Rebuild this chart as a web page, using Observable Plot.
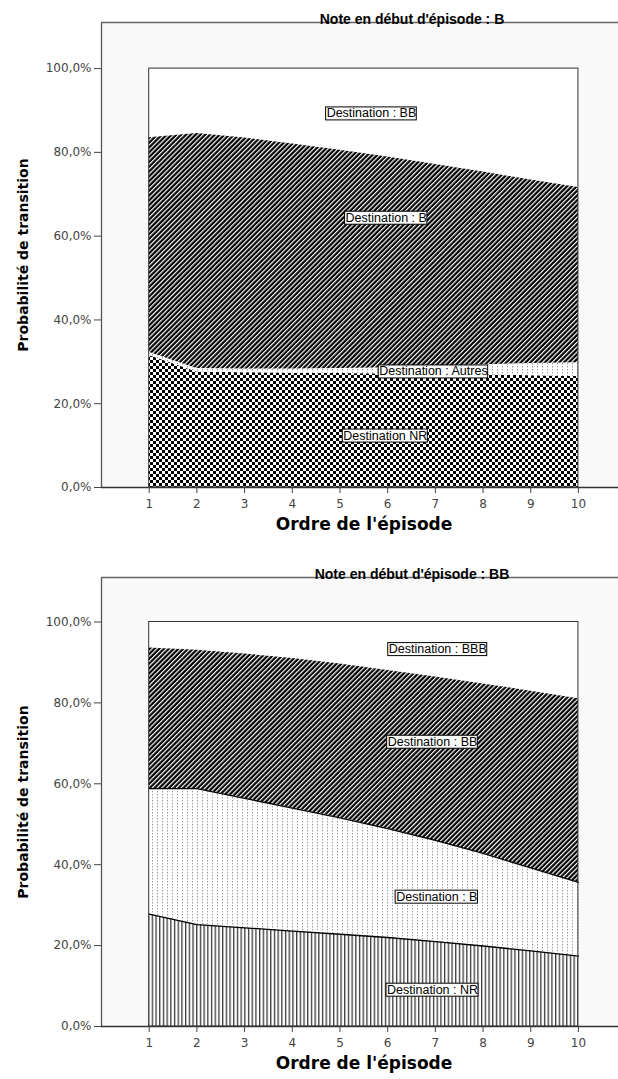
<!DOCTYPE html>
<html><head><meta charset="utf-8">
<script src="https://cdn.jsdelivr.net/npm/d3@7"></script>
<script src="https://cdn.jsdelivr.net/npm/@observablehq/plot@0.6"></script>
<style>
body{margin:0;background:#fff;}
#root{width:618px;}
#root svg{display:block;}
</style>
</head><body><div id="root"></div>
<script>
// ---------- data ----------
const episodes = [1, 2, 3, 4, 5, 6, 7, 8, 9, 10];
const yTicks = [0, 0.2, 0.4, 0.6, 0.8, 1];
const yTitle = "Probabilité de transition";
const xTitle = "Ordre de l'épisode";

// Chart 1 : Note en début d'épisode : B (probabilities in %)
const title1 = "Note en début d'épisode : B";
const dests1 = ["NR", "Autres", "B", "BB"];
const c1_NR     = [31.5, 27.6, 27.4, 27.3, 27.2, 27.1, 27.0, 26.9, 26.7, 26.5];
const c1_Autres = [0.8, 0.8, 0.9, 1.0, 1.2, 1.5, 1.9, 2.4, 2.9, 3.3];
const c1_B      = [51.2, 56.1, 55.1, 53.7, 52.1, 50.3, 48.2, 46.0, 43.8, 41.8];
const c1_BB     = [16.5, 15.5, 16.6, 18.0, 19.5, 21.1, 22.9, 24.7, 26.6, 28.4];
const labels1 = ["Destination NR", "Destination : Autres", "Destination : B", "Destination : BB"];
const labels1X = [5.95, 6.96, 5.97, 5.66];
const labels1Y = [0.124, 0.277, 0.644, 0.893];

// Chart 2 : Note en début d'épisode : BB
const title2 = "Note en début d'épisode : BB";
const dests2 = ["NR", "B", "BB", "BBB"];
const c2_NR  = [27.8, 25.2, 24.4, 23.6, 22.8, 22.0, 21.0, 19.9, 18.7, 17.4];
const c2_B   = [31.0, 33.6, 32.0, 30.4, 28.8, 26.9, 25.0, 22.9, 20.5, 18.2];
const c2_BB  = [34.8, 34.2, 35.7, 37.0, 38.0, 39.1, 40.4, 41.9, 43.7, 45.4];
const c2_BBB = [6.4, 7.0, 7.9, 9.0, 10.4, 12.0, 13.6, 15.3, 17.1, 19.0];
const labels2 = ["Destination : NR", "Destination : B", "Destination : BB", "Destination : BBB"];
const labels2X = [6.94, 7.03, 6.94, 7.05];
const labels2Y = [0.091, 0.321, 0.704, 0.933];

// ---------- helpers ----------
const pct = d => (d * 100).toFixed(1).replace(".", ",") + "%";

function addPatterns(svg, p) {
  const defs = d3.select(svg).insert("defs", ":first-child");
  let pt = defs.append("pattern").attr("id", p + "check").attr("patternUnits", "userSpaceOnUse")
    .attr("width", 6).attr("height", 6);
  pt.append("rect").attr("width", 6).attr("height", 6).attr("fill", "#fff");
  pt.append("rect").attr("width", 3).attr("height", 3).attr("fill", "#000");
  pt.append("rect").attr("x", 3).attr("y", 3).attr("width", 3).attr("height", 3).attr("fill", "#000");
  pt = defs.append("pattern").attr("id", p + "hatch").attr("patternUnits", "userSpaceOnUse")
    .attr("width", 3.4).attr("height", 10).attr("patternTransform", "rotate(45)");
  pt.append("rect").attr("width", 3.4).attr("height", 10).attr("fill", "#000");
  pt.append("rect").attr("width", 1.2).attr("height", 10).attr("fill", "#fff");
  pt = defs.append("pattern").attr("id", p + "dots").attr("patternUnits", "userSpaceOnUse")
    .attr("width", 5).attr("height", 3);
  pt.append("rect").attr("width", 5).attr("height", 3).attr("fill", "#fff");
  pt.append("rect").attr("x", 2).attr("width", 1).attr("height", 1.4).attr("fill", "#999");
  pt = defs.append("pattern").attr("id", p + "vlines").attr("patternUnits", "userSpaceOnUse")
    .attr("width", 3.7).attr("height", 4);
  pt.append("rect").attr("width", 3.7).attr("height", 4).attr("fill", "#fff");
  pt.append("rect").attr("width", 1.3).attr("height", 4).attr("fill", "#3a3a3a");
}

function boxLabels(svg) {
  d3.select(svg).selectAll('g[aria-description="destlabel"] text').each(function () {
    const b = this.getBBox();
    d3.select(this.parentNode).insert("rect", () => this)
      .attr("x", b.x - 1).attr("y", b.y + 0.5).attr("width", b.width + 1).attr("height", b.height - 1)
      .attr("fill", "#fff").attr("stroke", "#000").attr("stroke-width", 1)
      .attr("transform", this.getAttribute("transform"));
  });
}

function makeChart(cfg) {
  const rows = episodes.flatMap((x, i) => cfg.dests.map((d, j) => ({x, dest: d, y: cfg.series[j][i] / 100})));
  const labelRows = cfg.labels.map((t, i) => ({t, x: cfg.lx[i], y: cfg.ly[i]}));
  const fillOf = d => "url(#" + cfg.prefix + cfg.fills[cfg.dests.indexOf(d.dest)] + ")";
  const marks = [
    Plot.frame({fill: "#f9f9f9", stroke: "none"}),
    Plot.rect([0], {x1: 1, x2: 10, y1: 0, y2: 1, fill: "#fff"}),
    Plot.areaY(rows, {x: "x", y: "y", z: "dest", fill: fillOf, curve: "linear"})
  ];
  if (cfg.lines) {
    marks.push(Plot.lineY(rows, Plot.stackY2({x: "x", y: "y", z: "dest",
      stroke: d => cfg.lines.includes(d.dest) ? "#000" : "none", strokeWidth: 1.3})));
  }
  marks.push(
    Plot.rect([0], {x1: 1, x2: 10, y1: 0, y2: 1, fill: "none", stroke: "#333", strokeWidth: 1}),
    Plot.ruleX([0], {y1: 0, y2: 1.11, stroke: "#555", strokeWidth: 1.3}),
    Plot.ruleY([1.11], {x1: 0, x2: 10.84, stroke: "#666", strokeWidth: 1.3}),
    Plot.ruleY([0], {stroke: "#333", strokeWidth: 1.5}),
    Plot.axisY(yTicks, {tickFormat: pct, tickSize: 7, tickPadding: 3, fontSize: 12, label: null,
      color: "#444", fontFamily: "DejaVu Sans", letterSpacing: 0.4}),
    Plot.axisX(episodes, {tickSize: 6, tickPadding: 6, fontSize: 12, label: null,
      color: "#444", fontFamily: "DejaVu Sans"}),
    Plot.text([cfg.title], {text: d => d, frameAnchor: "top", dx: 52, dy: 1, lineAnchor: "bottom",
      fontWeight: "bold", fontSize: 14, letterSpacing: 0.9, fill: "#000"}),
    Plot.text([yTitle], {text: d => d, frameAnchor: "left", textAnchor: "middle", dx: -78, rotate: -90,
      fontWeight: "bold", fontSize: 14, fill: "#000", fontFamily: "DejaVu Sans"}),
    Plot.text([xTitle], {text: d => d, frameAnchor: "bottom", textAnchor: "middle", dx: 4, dy: 42,
      fontWeight: "bold", fontSize: 17, fill: "#000", fontFamily: "DejaVu Sans"}),
    Plot.text(labelRows, {x: "x", y: "y", text: "t", fontSize: 12.5, letterSpacing: 0.9, fill: "#000",
      ariaDescription: "destlabel"})
  );
  const svg = Plot.plot({
    width: 618, height: cfg.height, marginTop: cfg.marginTop, marginBottom: cfg.marginBottom,
    marginLeft: 101, marginRight: 0,
    x: {domain: [0, 10.84]},
    y: {domain: [0, 1.11]},
    color: {type: "identity"},
    style: {fontFamily: "'Liberation Sans', Arial, sans-serif", background: "#fff"},
    marks
  });
  addPatterns(svg, cfg.prefix);
  document.getElementById("root").appendChild(svg);
  boxLabels(svg);
}

makeChart({
  prefix: "a-", title: title1, dests: dests1, series: [c1_NR, c1_Autres, c1_B, c1_BB],
  fills: ["check", "dots", "hatch", "none"],
  labels: labels1, lx: labels1X, ly: labels1Y,
  height: 545, marginTop: 22, marginBottom: 58
});
makeChart({
  prefix: "b-", title: title2, dests: dests2, series: [c2_NR, c2_B, c2_BB, c2_BBB],
  fills: ["vlines", "dots", "hatch", "none"],
  lines: ["NR", "B"],
  labels: labels2, lx: labels2X, ly: labels2Y,
  height: 534, marginTop: 32, marginBottom: 53
});
</script>
</body></html>
